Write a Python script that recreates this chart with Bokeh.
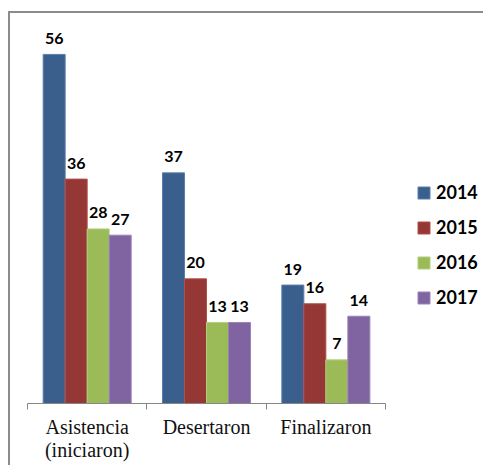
from bokeh.plotting import figure
from bokeh.models import (ColumnDataSource, Range1d, LinearAxis, FixedTicker,
                          Legend, LegendItem)
from bokeh.transform import dodge
from bokeh.core.properties import value
from bokeh.embed import file_html
from bokeh.resources import INLINE

categories = ["Asistencia (iniciaron)", "Desertaron", "Finalizaron"]
tick_labels = ["Asistencia\n(iniciaron)", "Desertaron", "Finalizaron"]
series_names = ["2014", "2015", "2016", "2017"]
v2014 = [56, 37, 19]
v2015 = [36, 20, 16]
v2016 = [28, 13, 7]
v2017 = [27, 13, 14]
series_values = [v2014, v2015, v2016, v2017]
fills = ["#3a5f8c", "#953735", "#9bbb59", "#8064a2"]
edges = ["#5a7fae", "#b0504d", "#b3cf7a", "#9a82b8"]

n = len(categories)
slot_centers = [i + 0.5 for i in range(n)]
legend_space = 0.821  # extra room on the right of the categories for the legend

W, H = 483, 465
p = figure(width=W, height=H, x_range=Range1d(0, n + legend_space),
           y_range=Range1d(0, 60), output_backend="svg", toolbar_location=None,
           x_axis_location=None, y_axis_location=None,
           min_border_left=27, min_border_right=0, min_border_top=29, min_border_bottom=62)
p.grid.visible = False
p.outline_line_color = None
p.background_fill_alpha = 0
p.border_fill_alpha = 0
line = "#8c8c8c"
p.styles = {
    "background": (f"linear-gradient({line},{line}) 8px 11px / 2px 100% no-repeat, "
                   f"linear-gradient({line},{line}) 8px 11px / 100% 2px no-repeat, white"),
}

ax = LinearAxis(bounds=(0, n))
ax.ticker = FixedTicker(ticks=slot_centers, minor_ticks=list(range(n + 1)))
ax.major_label_overrides = {c: lab for c, lab in zip(slot_centers, tick_labels)}
ax.major_tick_line_color = None
ax.major_tick_out = 0
ax.major_tick_in = 0
ax.minor_tick_out = 6
ax.minor_tick_in = 0
ax.minor_tick_line_color = "#868686"
ax.axis_line_color = "#868686"
ax.major_label_text_font = "Liberation Serif"
ax.major_label_text_font_size = "20px"
ax.major_label_text_line_height = 1.08
ax.major_label_text_color = "#111111"
ax.major_label_standoff = 6
p.add_layout(ax, "below")

bw = 0.1844
offsets = [-1.5 * bw, -0.5 * bw, 0.5 * bw, 1.5 * bw]
items = []
for name, vals, fc, ec, off in zip(series_names, series_values, fills, edges, offsets):
    src = ColumnDataSource(dict(cat=categories, pos=slot_centers, v=vals,
                                lab=[str(x) for x in vals]))
    r = p.vbar(x=dodge("pos", off), top="v", width=bw, source=src,
               fill_color=fc, line_color=ec, line_width=1)
    p.text(x=dodge("pos", off), y="v", text="lab", source=src,
           text_align="center", text_baseline="alphabetic", y_offset=-16,
           text_font=value("Lato"), text_font_style="bold", text_font_size="16px",
           text_color="black")
    items.append(LegendItem(label=name, renderers=[r]))

legend = Legend(items=items, location=(389, 95), padding=0, margin=0,
                glyph_width=15, glyph_height=15, label_height=20, spacing=13,
                label_standoff=5, border_line_color=None, background_fill_alpha=0,
                label_text_font="Lato", label_text_font_style="bold",
                label_text_font_size="18px", label_text_color="black")
p.add_layout(legend)

open("out.html", "w").write(file_html(p, INLINE))
